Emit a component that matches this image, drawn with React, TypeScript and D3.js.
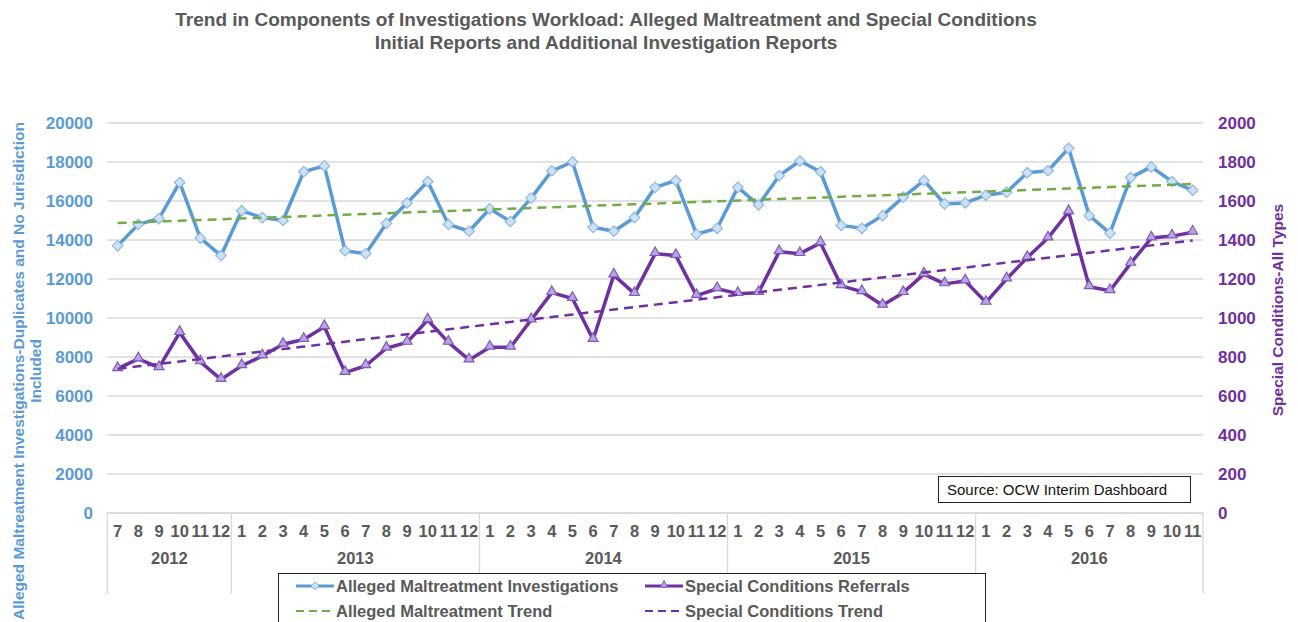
import React, { useEffect, useRef } from "react";
import * as d3 from "d3";

const yearLabels = ["2012", "2013", "2014", "2015", "2016"];
const monthLabels = [
  "7", "8", "9", "10", "11", "12",
  "1", "2", "3", "4", "5", "6", "7", "8", "9", "10", "11", "12",
  "1", "2", "3", "4", "5", "6", "7", "8", "9", "10", "11", "12",
  "1", "2", "3", "4", "5", "6", "7", "8", "9", "10", "11", "12",
  "1", "2", "3", "4", "5", "6", "7", "8", "9", "10", "11",
];
const investigations = [
  13700, 14800, 15100, 16950, 14100, 13200,
  15500, 15150, 15000, 17500, 17800, 13450, 13300, 14850, 15900, 17000, 14800, 14450,
  15600, 14950, 16150, 17550, 18000, 14650, 14450, 15150, 16700, 17050, 14300, 14600,
  16700, 15800, 17300, 18050, 17500, 14750, 14600, 15250, 16200, 17050, 15850, 15900,
  16300, 16450, 17450, 17550, 18700, 15250, 14350, 17200, 17750, 17000, 16550,
];
const referrals = [
  740, 790, 745, 925, 775, 685,
  755, 805, 865, 890, 955, 720, 755, 845, 875, 990, 875, 785,
  850, 850, 990, 1130, 1100, 890, 1220, 1125, 1330, 1320, 1115, 1150,
  1125, 1130, 1340, 1330, 1385, 1165, 1135, 1065, 1130, 1225, 1175, 1190,
  1080, 1200, 1310, 1410, 1545, 1160, 1140, 1280, 1410, 1420, 1440,
];
const leftTicks = [0, 2000, 4000, 6000, 8000, 10000, 12000, 14000, 16000, 18000, 20000];
const rightTicks = [0, 200, 400, 600, 800, 1000, 1200, 1400, 1600, 1800, 2000];

const FONT = "'Liberation Sans', Arial, sans-serif";
const BLUE = "#5B9BD5";
const PURPLE = "#7030A0";
const GREEN = "#70AD47";
const GRAY_TEXT = "#595959";
const GRID = "#D9D9D9";

// least squares line over the category index, like an Excel linear trendline
function trend(values: number[]) {
  const n = values.length;
  const xs = d3.range(n);
  const mx = d3.mean(xs)!;
  const my = d3.mean(values)!;
  const sxy = d3.sum(xs, (x, i) => (x - mx) * (values[i] - my));
  const sxx = d3.sum(xs, (x) => (x - mx) ** 2);
  const b = sxy / sxx;
  const a = my - b * mx;
  return xs.map((x) => a + b * x);
}

const App = () => {
  const svgRef = useRef<SVGSVGElement | null>(null);

  useEffect(() => {
    if (!svgRef.current) return;
    const svg = d3.select(svgRef.current);
    svg.selectAll("*").remove();

    const left = 107.3;
    const right = 1203;
    const top = 123;
    const bottom = 513;

    const idx = monthLabels.map((_, i) => i);
    const x = d3.scaleBand<number>().domain(idx).range([left, right]).padding(0);
    const cx = (i: number) => x(i)! + x.bandwidth() / 2;
    const yL = d3.scaleLinear().domain([0, 20000]).range([bottom, top]);
    const yR = d3.scaleLinear().domain([0, 2000]).range([bottom, top]);

    // title
    const title = svg
      .append("g")
      .attr("font-family", FONT)
      .attr("font-weight", "bold")
      .attr("font-size", 19)
      .attr("fill", GRAY_TEXT)
      .attr("text-anchor", "middle");
    title
      .append("text")
      .attr("x", 606)
      .attr("y", 26)
      .text("Trend in Components of Investigations Workload: Alleged Maltreatment and Special Conditions");
    title
      .append("text")
      .attr("x", 606)
      .attr("y", 49)
      .text("Initial Reports and Additional Investigation Reports");

    // gridlines
    svg
      .append("g")
      .selectAll("line")
      .data(leftTicks)
      .enter()
      .append("line")
      .attr("x1", left)
      .attr("x2", right)
      .attr("y1", (d) => yL(d))
      .attr("y2", (d) => yL(d))
      .attr("stroke", GRID)
      .attr("stroke-width", 1.3);

    // left ticks
    svg
      .append("g")
      .selectAll("text")
      .data(leftTicks)
      .enter()
      .append("text")
      .attr("x", 93)
      .attr("y", (d) => yL(d) + 6)
      .attr("text-anchor", "end")
      .attr("font-family", FONT)
      .attr("font-weight", "bold")
      .attr("font-size", 17)
      .attr("fill", BLUE)
      .text((d) => d);

    // right ticks
    svg
      .append("g")
      .selectAll("text")
      .data(rightTicks)
      .enter()
      .append("text")
      .attr("x", 1218)
      .attr("y", (d) => yR(d) + 6)
      .attr("text-anchor", "start")
      .attr("font-family", FONT)
      .attr("font-weight", "bold")
      .attr("font-size", 17)
      .attr("fill", PURPLE)
      .text((d) => d);

    // axis titles
    const lt = svg
      .append("g")
      .attr("transform", "translate(0,371) rotate(-90)")
      .attr("font-family", FONT)
      .attr("font-weight", "bold")
      .attr("font-size", 15.5)
      .attr("fill", BLUE)
      .attr("text-anchor", "middle");
    lt.append("text")
      .attr("x", 0)
      .attr("y", 24)
      .text("Alleged Maltreatment Investigations-Duplicates and No Jurisdiction");
    lt.append("text").attr("x", 0).attr("y", 41).text("Included");

    svg
      .append("text")
      .attr("transform", "translate(1283,310) rotate(-90)")
      .attr("font-family", FONT)
      .attr("font-weight", "bold")
      .attr("font-size", 15.5)
      .attr("fill", PURPLE)
      .attr("text-anchor", "middle")
      .text("Special Conditions-All Types");

    // category axis box
    const axisBottom = 594;
    const yearStarts = idx.filter((i) => i === 0 || monthLabels[i] === "1");
    const bounds = [...yearStarts.map((i) => x(i)!), right];
    const catAxis = svg.append("g");
    catAxis
      .append("line")
      .attr("x1", left)
      .attr("x2", right)
      .attr("y1", bottom)
      .attr("y2", bottom)
      .attr("stroke", GRID)
      .attr("stroke-width", 1.3);
    catAxis
      .selectAll("line.sep")
      .data(bounds)
      .enter()
      .append("line")
      .attr("class", "sep")
      .attr("x1", (d) => d)
      .attr("x2", (d) => d)
      .attr("y1", bottom)
      .attr("y2", axisBottom)
      .attr("stroke", GRID)
      .attr("stroke-width", 1.3);
    catAxis
      .selectAll("text.month")
      .data(monthLabels)
      .enter()
      .append("text")
      .attr("class", "month")
      .attr("x", (_, i) => cx(i))
      .attr("y", 537)
      .attr("text-anchor", "middle")
      .attr("font-family", FONT)
      .attr("font-weight", "bold")
      .attr("font-size", 16.5)
      .attr("fill", GRAY_TEXT)
      .text((d) => d);
    catAxis
      .selectAll("text.year")
      .data(yearLabels)
      .enter()
      .append("text")
      .attr("class", "year")
      .attr("x", (_, i) => (bounds[i] + bounds[i + 1]) / 2)
      .attr("y", 564)
      .attr("text-anchor", "middle")
      .attr("font-family", FONT)
      .attr("font-weight", "bold")
      .attr("font-size", 16.5)
      .attr("fill", GRAY_TEXT)
      .text((d) => d);

    // series lines
    const lineL = d3
      .line<number>()
      .x((_, i) => cx(i))
      .y((d) => yL(d));
    const lineR = d3
      .line<number>()
      .x((_, i) => cx(i))
      .y((d) => yR(d));

    svg
      .append("path")
      .attr("d", lineL(investigations))
      .attr("fill", "none")
      .attr("stroke", BLUE)
      .attr("stroke-width", 3.5)
      .attr("stroke-linejoin", "round");

    const diamond = d3.symbol().type(d3.symbolDiamond2).size(70);
    svg
      .append("g")
      .selectAll("path")
      .data(investigations)
      .enter()
      .append("path")
      .attr("d", diamond)
      .attr("transform", (d, i) => `translate(${cx(i)},${yL(d)})`)
      .attr("fill", "#CFE2F5")
      .attr("stroke", "#8DB8E2")
      .attr("stroke-width", 1.2);

    svg
      .append("path")
      .attr("d", lineR(referrals))
      .attr("fill", "none")
      .attr("stroke", PURPLE)
      .attr("stroke-width", 3.5)
      .attr("stroke-linejoin", "round");

    const tri = d3.symbol().type(d3.symbolTriangle2).size(70);
    svg
      .append("g")
      .selectAll("path")
      .data(referrals)
      .enter()
      .append("path")
      .attr("d", tri)
      .attr("transform", (d, i) => `translate(${cx(i)},${yR(d) - 1})`)
      .attr("fill", "#B6A6E4")
      .attr("stroke", "#8058B8")
      .attr("stroke-width", 1.2);

    // trendlines
    svg
      .append("path")
      .attr("d", lineL(trend(investigations)))
      .attr("fill", "none")
      .attr("stroke", GREEN)
      .attr("stroke-width", 2.5)
      .attr("stroke-dasharray", "9,6");
    svg
      .append("path")
      .attr("d", lineR(trend(referrals)))
      .attr("fill", "none")
      .attr("stroke", PURPLE)
      .attr("stroke-width", 2.5)
      .attr("stroke-dasharray", "9,6");

    // source box
    const src = svg.append("g");
    src
      .append("rect")
      .attr("x", 938.5)
      .attr("y", 476.5)
      .attr("width", 252)
      .attr("height", 26)
      .attr("fill", "#fff")
      .attr("stroke", "#222")
      .attr("stroke-width", 1);
    src
      .append("text")
      .attr("x", 947)
      .attr("y", 495)
      .attr("font-family", FONT)
      .attr("font-size", 15)
      .attr("fill", "#111")
      .text("Source: OCW Interim Dashboard");

    // legend
    const lg = svg.append("g");
    lg.append("rect")
      .attr("x", 278.5)
      .attr("y", 573.5)
      .attr("width", 707)
      .attr("height", 60)
      .attr("fill", "#fff")
      .attr("stroke", "#222")
      .attr("stroke-width", 1);

    const items = [
      { label: "Alleged Maltreatment Investigations", x: 296, y: 586, color: BLUE, dash: null, marker: "diamond" },
      { label: "Special Conditions Referrals", x: 645, y: 586, color: PURPLE, dash: null, marker: "triangle" },
      { label: "Alleged Maltreatment Trend", x: 296, y: 611, color: GREEN, dash: "8,5", marker: null },
      { label: "Special Conditions Trend", x: 645, y: 611, color: PURPLE, dash: "8,5", marker: null },
    ];
    items.forEach((it) => {
      lg.append("line")
        .attr("x1", it.x)
        .attr("x2", it.x + 38)
        .attr("y1", it.y)
        .attr("y2", it.y)
        .attr("stroke", it.color)
        .attr("stroke-width", it.dash ? 2 : 3)
        .attr("stroke-dasharray", it.dash);
      if (it.marker === "diamond") {
        lg.append("path")
          .attr("d", d3.symbol().type(d3.symbolDiamond2).size(40)())
          .attr("transform", `translate(${it.x + 19},${it.y})`)
          .attr("fill", "#CFE2F5")
          .attr("stroke", "#8DB8E2");
      } else if (it.marker === "triangle") {
        lg.append("path")
          .attr("d", d3.symbol().type(d3.symbolTriangle2).size(40)())
          .attr("transform", `translate(${it.x + 19},${it.y - 1})`)
          .attr("fill", "#B6A6E4")
          .attr("stroke", "#8058B8");
      }
      lg.append("text")
        .attr("x", it.x + 40)
        .attr("y", it.y + 6)
        .attr("font-family", FONT)
        .attr("font-weight", "bold")
        .attr("font-size", 16.5)
        .attr("fill", GRAY_TEXT)
        .text(it.label);
    });
  }, []);

  return (
    <svg
      ref={svgRef}
      width={1298}
      height={622}
      style={{ position: "absolute", left: 0, top: 0, background: "#fff" }}
    />
  );
};

export default App;
